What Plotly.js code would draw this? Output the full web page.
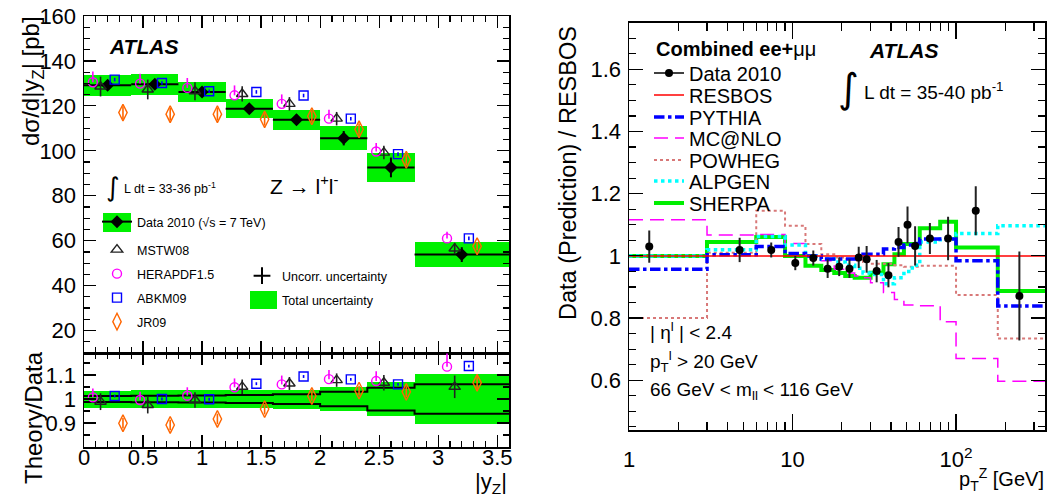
<!DOCTYPE html>
<html><head><meta charset="utf-8">
<script src="https://cdn.plot.ly/plotly-3.0.1.min.js"></script>
<style>html,body{margin:0;padding:0;background:#fff}#chart{width:1049px;height:496px}</style>
</head><body><div id="chart"></div>
<script>
// ---------------- Left panel: dσ/d|yZ| ----------------
const yzEdges = [0, 0.4, 0.8, 1.2, 1.6, 2.0, 2.4, 2.8, 3.6];
const dataXsec = [129.2, 129.6, 126.2, 118.7, 113.8, 105.6, 92.6, 53.8];
const dataUncorr = [1.6, 1.8, 1.8, 2.0, 2.3, 3.2, 4.4, 3.3];
const dataTotal = [4.6, 4.7, 4.6, 4.3, 4.5, 5.3, 6.4, 5.6];

const mstw08Xsec = [128.6, 127.3, 126.5, 125.3, 120.9, 114.3, 99.2, 56.5];
const mstw08Err = [4.4, 4.4, 4.0, 3.4, 3.0, 3.0, 3.0, 2.5];
const herapdfXsec = [130.5, 129.9, 128.0, 124.7, 120.9, 114.3, 99.7, 61.0];
const herapdfErrUp = [4.8, 4.4, 4.4, 4.4, 4.2, 4.0, 3.8, 3.0];
const abkm09Xsec = [131.7, 130.2, 126.5, 126.2, 124.6, 114.3, 98.5, 61.0];
const abkm09Err = [0.8, 0.8, 0.8, 0.8, 0.8, 0.8, 0.8, 0.8];
const jr09Xsec = [117.0, 116.3, 116.3, 114.0, 115.4, 109.6, 96.0, 57.5];
const jr09Err = [2.8, 2.8, 2.8, 2.8, 2.5, 2.5, 2.5, 1.8];

// ratio theory / data (lower panel)
const mstw08Ratio = [0.989, 0.975, 0.996, 1.051, 1.065, 1.079, 1.068, 1.051];
const mstw08RatioErr = [0.035, 0.035, 0.032, 0.030, 0.027, 0.028, 0.032, 0.047];
const herapdfRatio = [1.007, 0.996, 1.014, 1.049, 1.061, 1.083, 1.075, 1.135];
const herapdfRatioErrUp = [0.037, 0.034, 0.035, 0.037, 0.037, 0.038, 0.041, 0.055];
const abkm09Ratio = [1.0125, 1.0, 0.999, 1.064, 1.094, 1.082, 1.061, 1.1375];
const abkm09RatioErr = [0.006, 0.006, 0.006, 0.006, 0.006, 0.006, 0.006, 0.006];
const jr09Ratio = [0.899, 0.892, 0.917, 0.958, 1.0125, 1.035, 1.030, 1.068];
const jr09RatioErr = [0.022, 0.022, 0.022, 0.022, 0.02, 0.02, 0.022, 0.03];

// ---------------- Right panel: pT(Z) ratio to RESBOS ----------------
const ptEdges = [1, 3, 6, 9, 12, 15, 18, 21, 24, 27, 30, 36, 42, 48, 54, 60, 80, 100, 180, 350];
const ptData = [1.33, 4.75, 7.41, 10.4, 13.4, 16.4, 19.3, 22.3, 25.4, 28.4, 32.7, 38.6, 44.5, 50.5, 56.2, 69.2, 89.4, 132, 244];
const dataRatio = [1.03, 1.019, 1.019, 0.977, 0.993, 0.959, 0.965, 0.959, 0.995, 0.989, 0.951, 0.938, 1.045, 1.10, 1.032, 1.056, 1.056, 1.145, 0.871];
const dataRatioErr = [0.052, 0.039, 0.024, 0.023, 0.024, 0.03, 0.03, 0.03, 0.034, 0.043, 0.036, 0.039, 0.048, 0.059, 0.063, 0.05, 0.07, 0.079, 0.143];
const resbos = [1, 1, 1, 1, 1, 1, 1, 1, 1, 1, 1, 1, 1, 1, 1, 1, 1, 1, 1];
const pythia = [0.957, 1.004, 1.030, 1.008, 1.0, 0.99, 0.99, 0.99, 1.0, 1.005, 1.005, 1.022, 1.027, 1.035, 1.04, 1.054, 1.054, 0.984, 0.839];
const mcatnlo = [1.116, 1.067, 1.069, 1.040, 1.0, 0.984, 0.957, 0.945, 0.935, 0.93, 0.914, 0.882, 0.86, 0.842, 0.842, 0.84, 0.788, 0.67, 0.597];
const powheg = [0.80, 1.01, 1.145, 1.097, 1.038, 1.005, 0.995, 0.99, 0.985, 0.98, 0.975, 0.975, 0.97, 0.965, 0.965, 0.968, 0.968, 0.874, 0.734];
const alpgen = [1.0, 1.02, 1.062, 1.035, 1.0, 0.99, 0.98, 0.97, 0.96, 0.945, 0.94, 0.91, 0.93, 0.95, 0.97, 1.045, 1.054, 1.072, 1.097];
const sherpa = [1.0, 1.045, 1.061, 1.0, 0.968, 0.955, 0.945, 0.935, 0.93, 0.93, 0.946, 0.973, 1.005, 1.038, 1.038, 1.089, 1.11, 1.027, 0.887];

// ---------------- helpers ----------------
const W = 1049, H = 496;
const PX = v => v / W, PY = v => 1 - v / H;
const F = 'Liberation Sans, Arial, Helvetica, sans-serif';
const GREEN = '#00f000';
const centers = yzEdges.slice(0, -1).map((e, i) => (e + yzEdges[i + 1]) / 2);
const widths = yzEdges.slice(0, -1).map((e, i) => yzEdges[i + 1] - e);
const gapped = a => { const o = []; a.forEach(v => { o.push(v); o.push(null); }); return o; };
const gappedErr = a => { const o = []; a.forEach(v => { o.push(v); o.push(0); }); return o; };
const stepY = a => a.concat([a[a.length - 1]]);

const traces = [];
// total uncertainty boxes (top)
traces.push({type: 'bar', x: centers, y: dataTotal.map(t => 2 * t), base: dataXsec.map((v, i) => v - dataTotal[i]),
  width: widths, marker: {color: GREEN, line: {width: 0}}, xaxis: 'x', yaxis: 'y', showlegend: false, hoverinfo: 'skip'});
// data points (top)
traces.push({type: 'scatter', mode: 'lines+markers', name: 'Data 2010 (√s = 7 TeV)', legend: 'legend',
  x: gapped(centers), y: gapped(dataXsec), connectgaps: false,
  line: {color: 'black', width: 2}, marker: {symbol: 'diamond', size: 10, color: 'black'},
  error_x: {type: 'data', array: gappedErr(widths.map(w => w / 2)), width: 0, thickness: 2, color: 'black'},
  error_y: {type: 'data', array: gappedErr(dataUncorr), width: 0, thickness: 2, color: 'black'},
  xaxis: 'x', yaxis: 'y'});

function theory(name, xs, ys, err, errUpOnly, sym, col, size, xa, ya, leg, off) {
  return {type: 'scatter', mode: 'markers', name: name, legend: leg || 'legend', showlegend: !!leg,
    x: xs.map(c => c + off), y: ys,
    marker: {symbol: sym, size: size, color: col, line: {color: col, width: 1.4}},
    error_y: errUpOnly ? {type: 'data', symmetric: false, array: err, arrayminus: err.map(() => 0), width: 0, thickness: 1.6, color: col}
                       : {type: 'data', array: err, width: 0, thickness: 1.6, color: col},
    xaxis: xa, yaxis: ya};
}
const OFF = {mstw: -0.06, hera: -0.125, abkm: 0.06, jr: 0.13};
traces.push(theory('MSTW08', centers, mstw08Xsec, mstw08Err, false, 'triangle-up-open', '#222222', 10, 'x', 'y', 'legend2', OFF.mstw));
traces.push(theory('HERAPDF1.5', centers, herapdfXsec, herapdfErrUp, true, 'circle-open', '#ff00ff', 9, 'x', 'y', 'legend3', OFF.hera));
traces.push(theory('ABKM09', centers, abkm09Xsec, abkm09Err, false, 'square-open', '#0000ff', 9, 'x', 'y', 'legend4', OFF.abkm));
traces.push(theory('JR09', centers, jr09Xsec, jr09Err, false, 'diamond-tall-open', '#ff6600', 12, 'x', 'y', 'legend5', OFF.jr));

// lower panel: total band and uncorrelated lines
traces.push({type: 'bar', name: 'Total uncertainty', legend: 'legend7', x: centers,
  y: dataTotal.map((t, i) => 2 * t / dataXsec[i]), base: dataTotal.map((t, i) => 1 - t / dataXsec[i]),
  width: widths, marker: {color: GREEN, line: {width: 0}}, xaxis: 'x2', yaxis: 'y2', hoverinfo: 'skip'});
traces.push({type: 'scatter', mode: 'lines', x: yzEdges, y: stepY(dataUncorr.map((u, i) => 1 + u / dataXsec[i])),
  line: {shape: 'hv', color: 'black', width: 2}, xaxis: 'x2', yaxis: 'y2', showlegend: false});
traces.push({type: 'scatter', mode: 'lines', x: yzEdges, y: stepY(dataUncorr.map((u, i) => 1 - u / dataXsec[i])),
  line: {shape: 'hv', color: 'black', width: 2}, xaxis: 'x2', yaxis: 'y2', showlegend: false});
traces.push(theory('MSTW08', centers, mstw08Ratio, mstw08RatioErr, false, 'triangle-up-open', '#222222', 10, 'x2', 'y2', null, OFF.mstw));
traces.push(theory('HERAPDF1.5', centers, herapdfRatio, herapdfRatioErrUp, true, 'circle-open', '#ff00ff', 9, 'x2', 'y2', null, OFF.hera));
traces.push(theory('ABKM09', centers, abkm09Ratio, abkm09RatioErr, false, 'square-open', '#0000ff', 9, 'x2', 'y2', null, OFF.abkm));
traces.push(theory('JR09', centers, jr09Ratio, jr09RatioErr, false, 'diamond-tall-open', '#ff6600', 12, 'x2', 'y2', null, OFF.jr));
// legend key for the uncorrelated uncertainty (invisible markers on plot)
traces.push({type: 'scatter', mode: 'markers', name: 'Uncorr. uncertainty', legend: 'legend6', x: centers, y: dataXsec,
  marker: {symbol: 'cross-thin-open', size: 0.001, color: 'black', line: {color: 'black', width: 1.5}}, xaxis: 'x', yaxis: 'y'});

// right panel curves
function curve(name, vals, col, width, dash, leg) {
  return {type: 'scatter', mode: 'lines', name: name, legend: leg, x: ptEdges, y: stepY(vals),
    line: {shape: 'hv', color: col, width: width, dash: dash}, xaxis: 'x3', yaxis: 'y3'};
}
traces.push(curve('SHERPA', sherpa, '#00ee00', 4, 'solid', 'legend14'));
traces.push(curve('POWHEG', powheg, '#d87878', 2, 'dot', 'legend12'));
traces.push(curve('MC@NLO', mcatnlo, '#ff00ff', 1.5, '14px,7px', 'legend11'));
traces.push(curve('ALPGEN', alpgen, '#00ffff', 3.5, 'dot', 'legend13'));
traces.push(curve('PYTHIA', pythia, '#0000ff', 3.5, 'dashdot', 'legend10'));
traces.push(curve('RESBOS', resbos, '#ff0000', 1.5, 'solid', 'legend9'));
traces.push({type: 'scatter', mode: 'lines+markers', name: 'Data 2010', legend: 'legend8',
  x: gapped(ptData), y: gapped(dataRatio), connectgaps: false,
  line: {color: 'black', width: 1.5}, marker: {symbol: 'circle', size: 8, color: 'black'},
  error_y: {type: 'data', array: gappedErr(dataRatioErr), width: 0, thickness: 2, color: '#222'},
  xaxis: 'x3', yaxis: 'y3'});

// ---------------- layout ----------------
const frame = {showline: true, linecolor: 'black', linewidth: 1.5, mirror: 'allticks', ticks: 'inside',
  tickcolor: 'black', tickwidth: 1.2, showgrid: false, zeroline: false, fixedrange: true};
const tickF = {family: F, size: 22, color: 'black'};
const xL = [PX(84), PX(509)];

function leg(xpx, ypx, size) {
  return {x: PX(xpx), y: PY(ypx), xanchor: 'left', yanchor: 'middle', bgcolor: 'rgba(0,0,0,0)',
    borderwidth: 0, font: {family: F, size: size, color: 'black'}, itemclick: false, itemdoubleclick: false};
}
const LX = 97, RX = 649;
const layout = {
  width: W, height: H, margin: {l: 0, r: 0, t: 0, b: 0}, paper_bgcolor: 'white', plot_bgcolor: 'rgba(0,0,0,0)',
  barmode: 'overlay', bargap: 0, showlegend: true, font: {family: F, color: 'black'},
  xaxis: Object.assign({}, frame, {domain: xL, range: [0, 3.6], anchor: 'y', showticklabels: false,
    tick0: 0, dtick: 0.5, ticklen: 12, minor: {ticks: 'inside', dtick: 0.1, ticklen: 6, tickcolor: 'black'}}),
  yaxis: Object.assign({}, frame, {domain: [PY(353), PY(16)], range: [10, 160], anchor: 'x',
    tick0: 0, dtick: 20, ticklen: 12, tickfont: tickF, ticklabelstandoff: 2,
    minor: {ticks: 'inside', dtick: 5, ticklen: 6, tickcolor: 'black'}}),
  xaxis2: Object.assign({}, frame, {domain: xL, range: [0, 3.6], anchor: 'y2',
    tick0: 0, dtick: 0.5, ticklen: 12, tickfont: tickF, ticklabelstandoff: -10,
    minor: {ticks: 'inside', dtick: 0.1, ticklen: 6, tickcolor: 'black'}}),
  yaxis2: Object.assign({}, frame, {domain: [PY(447), PY(353)], range: [0.8, 1.192], anchor: 'x2',
    tickvals: [0.9, 1.0, 1.1], ticktext: ['0.9', '1', '1.1'], ticklen: 12, tickfont: tickF, ticklabelstandoff: 2,
    minor: {ticks: 'inside', dtick: 0.05, ticklen: 6, tickcolor: 'black'}}),
  xaxis3: Object.assign({}, frame, {type: 'log', domain: [PX(629), PX(1045)], range: [0, Math.log10(350)], anchor: 'y3',
    tickvals: [1, 10, 100], ticktext: ['1', '10', '10<sup>2</sup>'], ticklen: 16, tickfont: tickF, ticklabelstandoff: 9,
    minor: {ticks: 'inside', tickvals: [2, 3, 4, 5, 6, 7, 8, 9, 20, 30, 40, 50, 60, 70, 80, 90, 200, 300], ticklen: 8, tickcolor: 'black'}}),
  yaxis3: Object.assign({}, frame, {domain: [PY(430), PY(22.7)], range: [0.44, 1.75], anchor: 'x3',
    ticklen: 14, tickfont: tickF, ticklabelstandoff: 2,
    tickvals: [0.6, 0.8, 1.0, 1.2, 1.4, 1.6], ticktext: ['0.6', '0.8', '1', '1.2', '1.4', '1.6'],
    minor: {ticks: 'inside', dtick: 0.05, tick0: 0, ticklen: 7, tickcolor: 'black'}}),
  legend: leg(LX, 222, 12.5),
  legend2: leg(LX, 250, 12.5),
  legend3: leg(LX, 274, 12.5),
  legend4: leg(LX, 298, 12.5),
  legend5: leg(LX, 322, 12.5),
  legend6: Object.assign(leg(242, 276, 12.5), {itemsizing: 'constant'}),
  legend7: leg(242, 300, 12.5),
  legend8: leg(RX, 73, 20),
  legend9: leg(RX, 95, 20),
  legend10: leg(RX, 117, 20),
  legend11: leg(RX, 138, 20),
  legend12: leg(RX, 160, 20),
  legend13: leg(RX, 181, 20),
  legend14: leg(RX, 203, 20),
  shapes: [
    {type: 'rect', xref: 'paper', yref: 'paper', x0: PX(103), x1: PX(131), y0: PY(232), y1: PY(213), fillcolor: GREEN, line: {width: 0}, layer: 'above'},
    {type: 'rect', xref: 'paper', yref: 'paper', x0: PX(250), x1: PX(277), y0: PY(309), y1: PY(291), fillcolor: GREEN, line: {width: 0}, layer: 'above'}
  ],
  annotations: [
    {text: '<b><i>ATLAS</i></b>', x: PX(107), y: PY(46), xanchor: 'left', yanchor: 'middle', font: {family: F, size: 21}},
    {text: '∫', x: PX(113), y: PY(187), xanchor: 'center', yanchor: 'middle', font: {family: 'DejaVu Sans', size: 26}},
    {text: 'L dt = 33-36 pb<sup>-1</sup>', x: PX(122), y: PY(188), xanchor: 'left', yanchor: 'middle', font: {family: F, size: 12.5}},
    {text: 'Z → l<sup>+</sup>l<sup>-</sup>', x: PX(268), y: PY(185), xanchor: 'left', yanchor: 'middle', font: {family: F, size: 21}},
    {text: '<b><i>ATLAS</i></b>', x: PX(867), y: PY(50), xanchor: 'left', yanchor: 'middle', font: {family: F, size: 21}},
    {text: '<b>Combined ee+</b>μμ', x: PX(654), y: PY(49), xanchor: 'left', yanchor: 'middle', font: {family: F, size: 20}},
    {text: '∫', x: PX(848), y: PY(88), xanchor: 'center', yanchor: 'middle', font: {family: 'DejaVu Sans', size: 40}},
    {text: 'L dt = 35-40 pb<sup>-1</sup>', x: PX(862), y: PY(91), xanchor: 'left', yanchor: 'middle', font: {family: F, size: 19}},
    {text: '| η<sup>l</sup> | &lt; 2.4', x: PX(648), y: PY(331), xanchor: 'left', yanchor: 'middle', font: {family: F, size: 19}},
    {text: 'p<sub>T</sub><sup>l</sup> &gt; 20 GeV', x: PX(648), y: PY(361), xanchor: 'left', yanchor: 'middle', font: {family: F, size: 19}},
    {text: '66 GeV &lt; m<sub>ll</sub> &lt; 116 GeV', x: PX(648), y: PY(391), xanchor: 'left', yanchor: 'middle', font: {family: F, size: 19}},
    {text: 'dσ/d|y<sub>Z</sub>| [pb]', x: PX(33), y: PY(14), xanchor: 'center', yanchor: 'top', textangle: -90, font: {family: F, size: 24}},
    {text: 'Theory/Data', x: PX(33), y: PY(418), xanchor: 'center', yanchor: 'middle', textangle: -90, font: {family: F, size: 24}},
    {text: '|y<sub>Z</sub>|', x: PX(509), y: PY(467), xanchor: 'right', yanchor: 'top', font: {family: F, size: 22}},
    {text: 'p<sub>T</sub><sup>Z</sup> [GeV]', x: PX(1046), y: PY(463), xanchor: 'right', yanchor: 'top', font: {family: F, size: 20}},
    {text: 'Data (Prediction) / RESBOS', x: PX(568), y: PY(24), xanchor: 'center', yanchor: 'top', textangle: -90, font: {family: F, size: 23.5}}
  ].map(a => Object.assign({xref: 'paper', yref: 'paper', showarrow: false}, a))
};

Plotly.newPlot('chart', traces, layout, {displayModeBar: false, staticPlot: true});
</script>
</body></html>
